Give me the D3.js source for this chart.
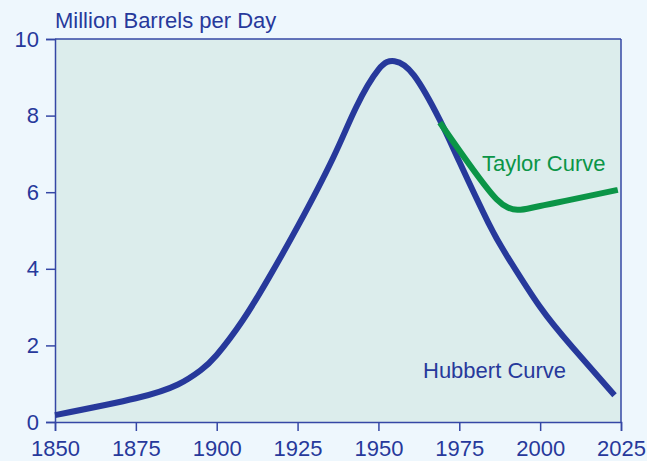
<!DOCTYPE html>
<html>
<head>
<meta charset="utf-8">
<script src="https://cdn.jsdelivr.net/npm/d3@7"></script>
<style>
  body { margin: 0; background: #eef7fd; }
  text { font-family: "Liberation Sans", Arial, sans-serif; }
</style>
</head>
<body>
<div id="chart"></div>
<script>
// data
var hubbertYears = [1850, 1875, 1888, 1895, 1900, 1908, 1916, 1925, 1936, 1943, 1950, 1955, 1961, 1969, 1975, 1984, 1990, 2000, 2010, 2023];
var hubbertValues = [0.18, 0.62, 0.98, 1.35, 1.75, 2.65, 3.75, 5.1, 6.9, 8.2, 9.2, 9.42, 9.05, 7.88, 6.8, 5.2, 4.3, 3.0, 1.95, 0.7];
var taylorYears = [1969, 1986.5, 1990, 1993, 2000, 2024];
var taylorValues = [7.82, 5.82, 5.6, 5.54, 5.64, 6.06];
var xTicks = [1850, 1875, 1900, 1925, 1950, 1975, 2000, 2025];
var yTicks = [0, 2, 4, 6, 8, 10];

var svgWidth = 647;
var svgHeight = 461;

var margin = {
  top: 39,
  right: 26,
  bottom: 39,
  left: 55
};

var width = svgWidth - margin.left - margin.right;
var height = svgHeight - margin.top - margin.bottom;

var blue = "#27399b";
var green = "#0b9547";
var axisColor = "#3547a5";

var svg = d3.select("#chart")
  .append("svg")
  .attr("width", svgWidth)
  .attr("height", svgHeight);

svg.append("rect")
  .attr("width", svgWidth)
  .attr("height", svgHeight)
  .attr("fill", "#eef7fd");

var chartGroup = svg.append("g")
  .attr("transform", `translate(${margin.left}, ${margin.top})`);

var xScale = d3.scaleLinear()
  .domain([1850, 2025])
  .range([0, width]);

var yScale = d3.scaleLinear()
  .domain([0, 10])
  .range([height, 0]);

// plot background
chartGroup.append("rect")
  .attr("width", width)
  .attr("height", height)
  .attr("fill", "#dcedec");

// axes
var bottomAxis = d3.axisBottom(xScale)
  .tickValues(xTicks)
  .tickFormat(d3.format("d"))
  .tickSize(9)
  .tickPadding(9);

var leftAxis = d3.axisLeft(yScale)
  .tickValues(yTicks)
  .tickSize(9)
  .tickPadding(7);

var xAxisG = chartGroup.append("g")
  .attr("transform", `translate(0, ${height})`)
  .call(bottomAxis);

var yAxisG = chartGroup.append("g")
  .call(leftAxis);

[xAxisG, yAxisG].forEach(function(g) {
  g.select(".domain").attr("stroke", axisColor).attr("stroke-width", 1.5);
  g.selectAll(".tick line").attr("stroke", axisColor).attr("stroke-width", 1.5);
  g.selectAll(".tick text")
    .attr("fill", blue)
    .attr("font-size", 22)
    .style("font-family", "'Liberation Sans', Arial, sans-serif");
});

// frame top and right
chartGroup.append("line")
  .attr("x1", 0).attr("x2", width)
  .attr("y1", 0).attr("y2", 0)
  .attr("stroke", axisColor).attr("stroke-width", 1.5);

chartGroup.append("line")
  .attr("x1", width).attr("x2", width)
  .attr("y1", 0).attr("y2", height)
  .attr("stroke", axisColor).attr("stroke-width", 1.5);

// curves
var hubbert = hubbertYears.map((y, i) => ({year: y, value: hubbertValues[i]}));
var taylor = taylorYears.map((y, i) => ({year: y, value: taylorValues[i]}));

var smoothLine = d3.line()
  .x(d => xScale(d.year))
  .y(d => yScale(d.value))
  .curve(d3.curveNatural);

var taylorLine = d3.line()
  .x(d => xScale(d.year))
  .y(d => yScale(d.value))
  .curve(d3.curveCatmullRom.alpha(0.5));

chartGroup.append("path")
  .datum(hubbert)
  .attr("d", smoothLine)
  .attr("fill", "none")
  .attr("stroke", blue)
  .attr("stroke-width", 6);

chartGroup.append("path")
  .datum(taylor)
  .attr("d", taylorLine)
  .attr("fill", "none")
  .attr("stroke", green)
  .attr("stroke-width", 6);

// labels
svg.append("text")
  .attr("x", 55)
  .attr("y", 28)
  .attr("fill", blue)
  .attr("font-size", 22)
  .text("Million Barrels per Day");

svg.append("text")
  .attr("x", 482)
  .attr("y", 171)
  .attr("fill", green)
  .attr("font-size", 22)
  .text("Taylor Curve");

svg.append("text")
  .attr("x", 423)
  .attr("y", 378)
  .attr("fill", blue)
  .attr("font-size", 22)
  .text("Hubbert Curve");
</script>
</body>
</html>
